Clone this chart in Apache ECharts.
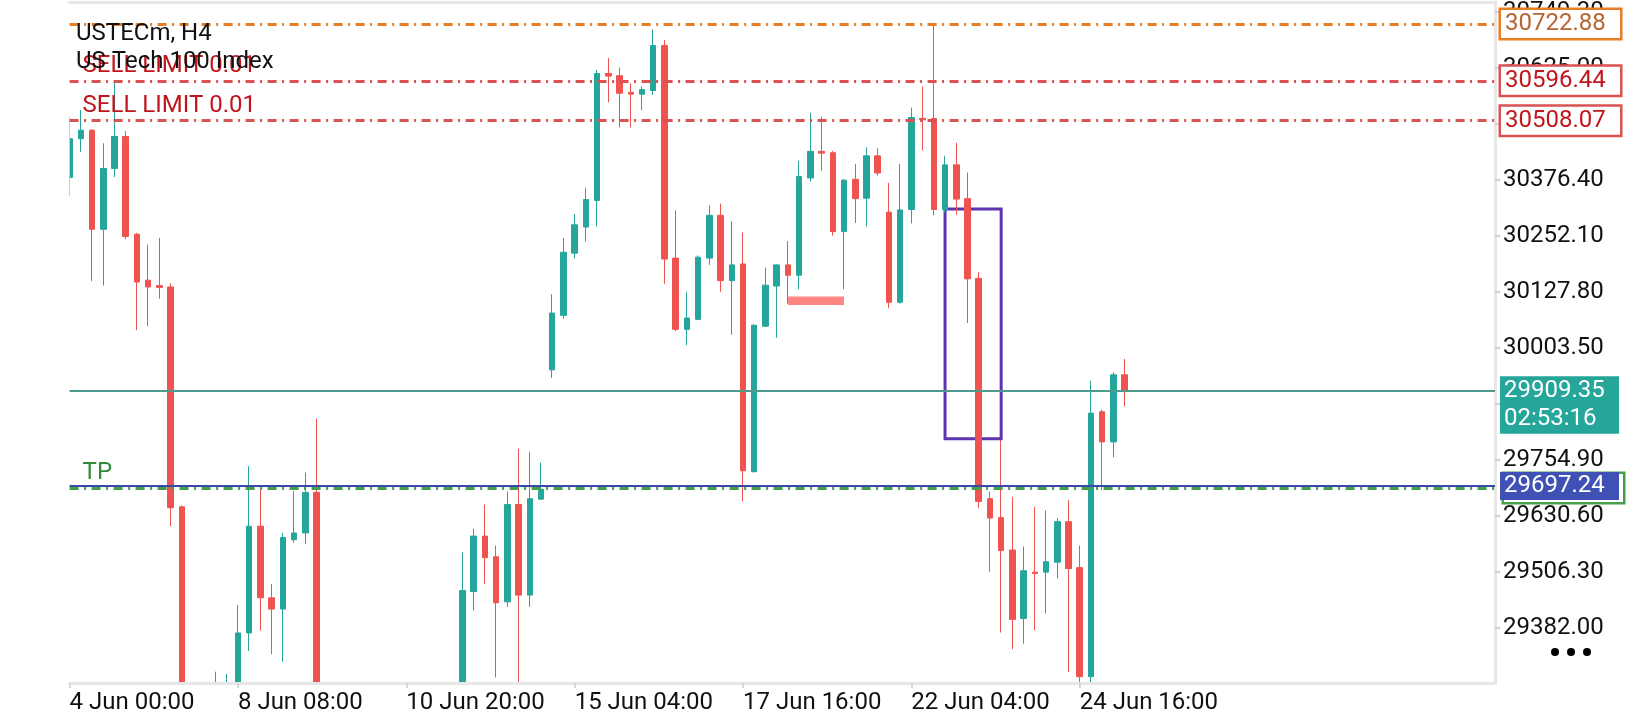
<!DOCTYPE html>
<html>
<head>
<meta charset="utf-8">
<title>USTECm, H4</title>
<script src="https://cdn.jsdelivr.net/npm/echarts@6/dist/echarts.min.js"></script>
<style>
  html, body { margin: 0; padding: 0; background: #fff; }
  #chart { width: 1640px; height: 720px; }
</style>
</head>
<body>
<div id="chart"></div>
<script>
// H4 bars, one row per bar: [open, high, low, close]
const bars = [
  [30382, 30517, 30341, 30468], [30468, 30532, 30439, 30487], [30487, 30489, 30152, 30267],
  [30267, 30458, 30142, 30402], [30402, 30592, 30383, 30473], [30473, 30485, 30245, 30251],
  [30256, 30259, 30043, 30150], [30154, 30233, 30052, 30139], [30142, 30248, 30113, 30138],
  [30139, 30147, 29608, 29649], [29651, 29654, 29110, 29160], [29160, 29230, 29020, 29080],
  [29080, 29210, 29040, 29150], [29150, 29285, 29120, 29240], [29200, 29280, 29150, 29245],
  [29245, 29433, 29220, 29371], [29371, 29741, 29331, 29608], [29608, 29691, 29376, 29449],
  [29449, 29480, 29324, 29424], [29424, 29593, 29307, 29583], [29578, 29686, 29571, 29593],
  [29593, 29727, 29568, 29683], [29683, 29847, 29120, 29160], [29160, 29230, 29050, 29100],
  [29100, 29180, 29010, 29150], [29150, 29210, 29060, 29080], [29080, 29140, 28980, 29020],
  [29020, 29110, 28990, 29090], [29090, 29170, 29050, 29140], [29140, 29200, 29080, 29110],
  [29110, 29190, 29060, 29170], [29170, 29230, 29100, 29130], [29130, 29220, 29090, 29190],
  [29190, 29240, 29120, 29150], [29150, 29245, 29110, 29210], [29210, 29550, 29190, 29465],
  [29463, 29602, 29421, 29586], [29586, 29656, 29480, 29538], [29540, 29565, 29272, 29438],
  [29440, 29685, 29429, 29656], [29656, 29780, 29230, 29455], [29455, 29773, 29429, 29669],
  [29668, 29749, 29667, 29690], [29955, 30123, 29937, 30081], [30076, 30248, 30068, 30216],
  [30214, 30301, 30202, 30277], [30272, 30359, 30240, 30333], [30331, 30621, 30273, 30613],
  [30613, 30647, 30549, 30607], [30608, 30626, 30493, 30569], [30571, 30591, 30493, 30567],
  [30567, 30584, 30531, 30577], [30575, 30711, 30565, 30675], [30675, 30687, 30146, 30201],
  [30203, 30309, 30041, 30045], [30045, 30128, 30010, 30070], [30067, 30209, 30065, 30205],
  [30203, 30320, 30188, 30298], [30298, 30324, 30128, 30153], [30153, 30285, 30033, 30188],
  [30190, 30260, 29663, 29731], [29729, 30056, 29727, 30054], [30052, 30182, 30050, 30143],
  [30141, 30189, 30026, 30188], [30188, 30241, 30102, 30165], [30165, 30419, 30134, 30384],
  [30381, 30526, 30373, 30440], [30440, 30517, 30397, 30436], [30437, 30441, 30253, 30262],
  [30262, 30379, 30134, 30376], [30378, 30412, 30281, 30335], [30336, 30449, 30273, 30430],
  [30430, 30447, 30386, 30392], [30305, 30370, 30092, 30105], [30105, 30412, 30102, 30310],
  [30311, 30537, 30280, 30515], [30513, 30584, 30442, 30510], [30513, 30723, 30298, 30311],
  [30311, 30430, 30305, 30410], [30410, 30459, 30299, 30334], [30335, 30393, 30059, 30157],
  [30158, 30172, 29648, 29663], [29669, 29685, 29507, 29626], [29627, 29800, 29372, 29554],
  [29555, 29673, 29335, 29401], [29403, 29563, 29347, 29509], [29506, 29651, 29377, 29503],
  [29506, 29643, 29414, 29529], [29528, 29626, 29492, 29618], [29618, 29666, 29284, 29514],
  [29516, 29565, 29245, 29274], [29274, 29931, 29250, 29859], [29862, 29867, 29688, 29795],
  [29795, 29950, 29761, 29944], [29944, 29979, 29874, 29909.35]
]

const timeLabels = ['4 Jun 00:00', '8 Jun 08:00', '10 Jun 20:00', '15 Jun 04:00', '17 Jun 16:00', '22 Jun 04:00', '24 Jun 16:00']
const barsPerLabel = 15
const slotCount = 128 // bars plus empty space on the right

const priceTicks = [29382.00, 29506.30, 29630.60, 29754.90, 29879.20, 30003.50,
  30127.80, 30252.10, 30376.40, 30500.70, 30625.00, 30749.30]
const priceMin = 29259.9
const priceMax = 30771.5

const stopPrice = 30722.88
const sellLimits = [30596.44, 30508.07]
const sellLabel = 'SELL LIMIT 0.01'
const lastPrice = 29909.35
const countdown = '02:53:16'
const entryPrice = 29697.24
const tpPrice = 29693.00

// shaded zone and highlight box: [fromBar, toBar, topPrice, bottomPrice]
const pinkZone = [64, 69, 30118, 30099]
const purpleBox = [78, 83, 30312, 29802]

const FONT = 'Roboto'
const UP = '#26a69a'
const DOWN = '#ef5350'
const dashDot = [9, 5.5, 2, 5.5]

const cats = Array.from({length: slotCount}, (_, i) => String(i))
const isLabelBar = (i) => i % barsPerLabel === 0 && i / barsPerLabel < timeLabels.length

function priceBox (value, border, text, bg, distance) {
  return {
    show: true,
    position: 'end',
    distance: distance || 6,
    formatter: value.toFixed(2),
    color: text,
    fontSize: 24,
    fontFamily: FONT,
    backgroundColor: bg || '#fff',
    borderColor: border,
    borderWidth: border ? 2.5 : 0,
    padding: [1, 4, 1, 4],
    width: 111,
    lineHeight: 26
  }
}

function leftText (text, color) {
  return {
    show: true,
    position: 'insideStartTop',
    distance: [13, 3],
    formatter: text,
    color: color,
    fontSize: 24,
    fontFamily: FONT
  }
}

// line drawn invisibly, used only to carry a label
const noLine = {color: 'rgba(0,0,0,0)', width: 0}

// candlestick clip only drops whole bars, so the plot edges get white masks
// that sit above the candles and under the axes
const grid = {left: 69.6, right: 145, top: 2, bottom: 37}

let chart = echarts.init(document.getElementById('chart'))
chart.setOption({
  animation: false,
  backgroundColor: '#fff',
  textStyle: {fontFamily: FONT},
  title: {
    text: 'USTECm, H4\nUS Tech 100 Index',
    left: 76,
    top: 20,
    padding: 0,
    z: 8,
    textStyle: {fontSize: 24, fontWeight: 'normal', color: '#111', lineHeight: 28, fontFamily: FONT}
  },
  grid: Object.assign({outerBoundsMode: 'none'}, grid),
  xAxis: [{
    type: 'category',
    data: cats,
    boundaryGap: false,
    z: 4,
    axisLine: {show: true, lineStyle: {color: '#e6e6e6', width: 3}},
    axisTick: {show: true, length: 5, interval: (i) => isLabelBar(i), lineStyle: {color: '#d6d6d6', width: 2}},
    axisLabel: {
      interval: (i) => isLabelBar(i),
      formatter: (v, i) => isLabelBar(i) ? timeLabels[i / barsPerLabel] : '',
      align: 'left',
      margin: 8,
      color: '#111',
      fontSize: 24,
      fontFamily: FONT,
      hideOverlap: false
    },
    splitLine: {show: false}
  }, {
    type: 'category',
    data: cats,
    position: 'top',
    boundaryGap: false,
    z: 4,
    axisLine: {show: true, lineStyle: {color: '#e6e6e6', width: 3}},
    axisTick: {show: false},
    axisLabel: {show: false},
    splitLine: {show: false}
  }],
  yAxis: {
    type: 'value',
    position: 'right',
    min: priceMin,
    max: priceMax,
    z: 4,
    axisLine: {show: true, lineStyle: {color: '#e6e6e6', width: 3}},
    axisTick: {show: true, length: 5, customValues: priceTicks, lineStyle: {color: '#d0d0d0', width: 2}},
    axisLabel: {
      customValues: priceTicks,
      formatter: (v) => v.toFixed(2),
      margin: 8,
      color: '#111',
      fontSize: 24,
      fontFamily: FONT,
      hideOverlap: false
    },
    splitLine: {show: false}
  },
  series: [{
    type: 'candlestick',
    name: 'USTECm',
    data: bars.map(([o, h, l, c]) => [o, c, l, h]),
    z: 2,
    barWidth: 6,
    itemStyle: {color: UP, color0: DOWN, borderColor: UP, borderColor0: DOWN, borderWidth: 1},
    markArea: {
      silent: true,
      data: [
        [{coord: [pinkZone[0], pinkZone[2]], itemStyle: {color: '#ff8585'}},
          {coord: [pinkZone[1], pinkZone[3]]}],
        [{coord: [purpleBox[0], purpleBox[2]], itemStyle: {color: 'rgba(0,0,0,0)', borderColor: '#5e35b1', borderWidth: 3}},
          {coord: [purpleBox[1], purpleBox[3]]}]
      ]
    }
  }, {
    type: 'line',
    name: 'levels',
    data: [],
    clip: false,
    markLine: {
      silent: true,
      z: 6,
      symbol: ['none', 'none'],
      data: [
        {yAxis: stopPrice, lineStyle: {color: '#e67e22', type: dashDot, width: 3}, label: priceBox(stopPrice, '#e67e22', '#b5652f')},
        {yAxis: sellLimits[0], lineStyle: {color: '#db5252', type: dashDot, width: 3}, label: leftText(sellLabel, '#c0151c')},
        {yAxis: sellLimits[0], lineStyle: noLine, label: priceBox(sellLimits[0], '#db5252', '#c0151c')},
        {yAxis: sellLimits[1], lineStyle: {color: '#db5252', type: dashDot, width: 3}, label: leftText(sellLabel, '#c0151c')},
        {yAxis: sellLimits[1], lineStyle: noLine, label: priceBox(sellLimits[1], '#db5252', '#c0151c')},
        {yAxis: tpPrice, lineStyle: {color: '#43a047', type: dashDot, width: 3}, label: leftText('TP', '#2e8b3a')},
        {yAxis: tpPrice, lineStyle: noLine, label: priceBox(tpPrice, '#43a047', '#fff', '#fff', 9)},
        {yAxis: entryPrice, lineStyle: {color: '#3949ab', type: 'solid', width: 2}, label: priceBox(entryPrice, null, '#fff', '#3f51b5', 5)},
        {
          yAxis: lastPrice,
          lineStyle: {color: '#4f9a8e', type: 'solid', width: 2},
          label: {
            show: true,
            position: 'end',
            distance: 5,
            formatter: '{gap| }\n{p|' + lastPrice.toFixed(2) + '}\n{p|' + countdown + '}',
            rich: {
              gap: {height: 29, lineHeight: 29, fontSize: 10, color: 'rgba(0,0,0,0)'},
              p: {color: '#fff', backgroundColor: UP, width: 111, height: 29, lineHeight: 28.5, padding: [0, 4], fontSize: 24, fontFamily: FONT}
            }
          }
        }
      ]
    }
  }],
  graphic: [
    {type: 'rect', z: 3, silent: true, shape: {x: 0, y: 720 - grid.bottom + 1.5, width: 1640, height: grid.bottom}, style: {fill: '#fff'}},
    {type: 'rect', z: 3, silent: true, shape: {x: 0, y: 0, width: grid.left, height: 720}, style: {fill: '#fff'}}
  ].concat([1555, 1571, 1587].map(x => ({
    type: 'circle',
    z: 3,
    shape: {cx: x, cy: 652, r: 4},
    style: {fill: '#000'}
  })))
})
</script>
</body>
</html>
